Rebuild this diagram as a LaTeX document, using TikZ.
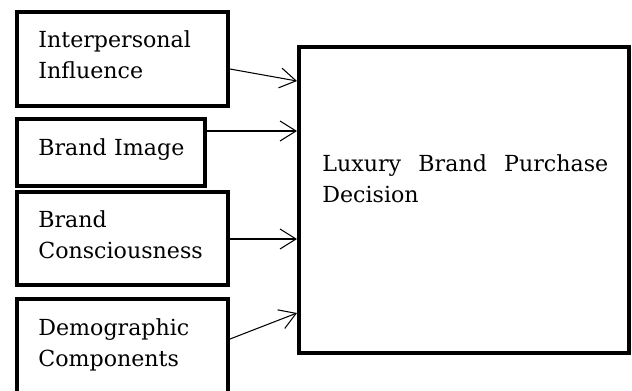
\documentclass[tikz,border=0pt]{standalone}
\usepackage{fontspec}
\setmainfont{DejaVu Serif}
\usetikzlibrary{arrows.meta}

\begin{document}
\begin{tikzpicture}[x=0.02cm, y=-0.02cm,
  box/.style={draw, line width=2.3pt, minimum width=4.22cm, minimum height=1.88cm, inner sep=0pt},
  lbl/.style={anchor=base west, inner sep=0pt, text width=4cm, align=left, font=\fontsize{12.6}{18.1}\selectfont},
  conn/.style={line width=0.6pt, -{Straight Barb[length=0.32cm, width=0.4cm]}}]
\clip (0,0) rectangle (632,390);
% factor boxes
\node[box] (Inf) at (122.5,59) {};
\node[box, minimum width=3.76cm, minimum height=1.34cm] (Img) at (111,152.5) {};
\node[box, minimum height=1.86cm] (Cons) at (122.5,238.5) {};
\node[box] (Demo) at (122.5,346) {};
% decision box
\node[box, minimum width=6.6cm, minimum height=6.12cm] (Dec) at (464,200) {};
\node[lbl] (InfT) at (38,47) {Interpersonal\\Influence};
\node[lbl] (ImgT) at (38,155) {Brand Image};
\node[lbl] (ConsT) at (38,227) {Brand\\Consciousness};
\node[lbl] (DemoT) at (38,335) {Demographic\\Components};
\node[lbl, text width=5.72cm, align=justify] (DecT) at (322,171) {Luxury Brand Purchase\linebreak Decision};
\draw[conn] (Inf.east |- 0,69) -- (Dec.west |- 0,81);
\draw[conn] (Img.east |- 0,131) -- (Dec.west |- 0,131);
\draw[conn] (Cons.east |- 0,239) -- (Dec.west |- 0,239);
\draw[conn] (Demo.east |- 0,339) -- (Dec.west |- 0,313);
\end{tikzpicture}
\end{document}
